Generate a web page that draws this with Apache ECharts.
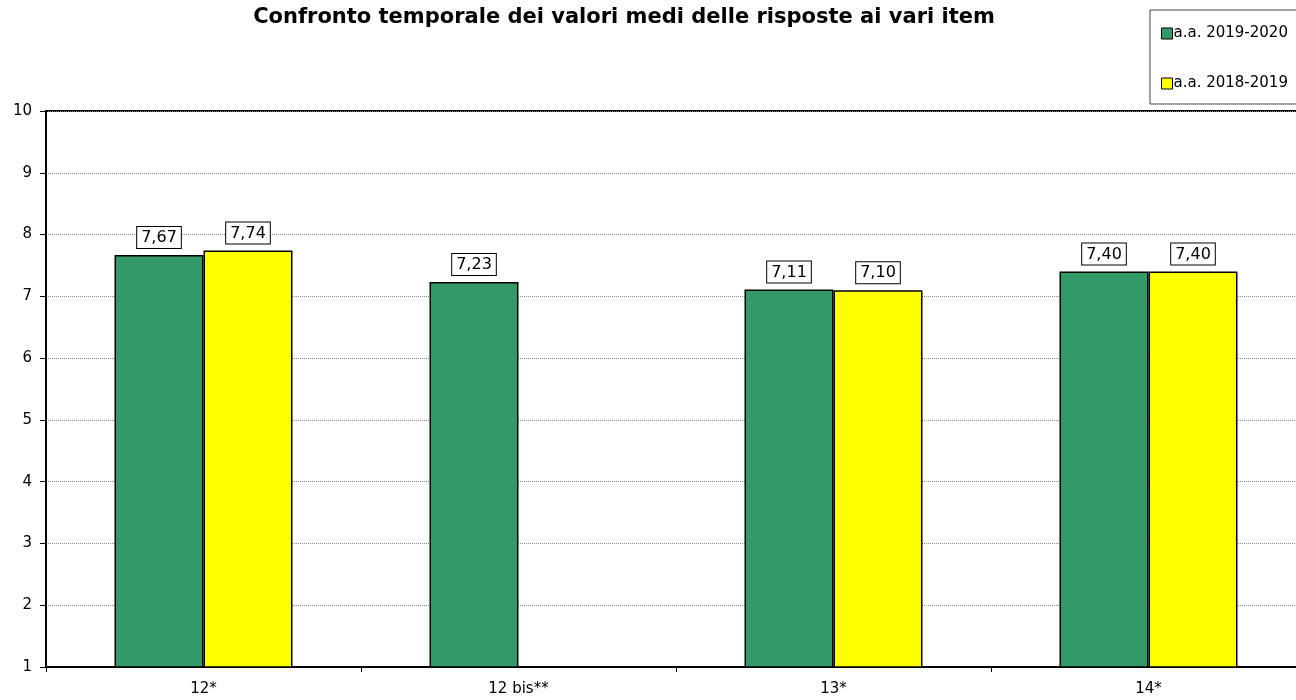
<!DOCTYPE html>
<html>
<head>
<meta charset="utf-8">
<style>
  html, body { margin: 0; padding: 0; background: #fff; }
  #chart { width: 1296px; height: 700px; }
</style>
<script src="https://cdn.jsdelivr.net/npm/echarts@6/dist/echarts.min.js"></script>
</head>
<body>
<div id="chart"></div>
<script>
// data
const categories = ['12*', '12 bis**', '13*', '14*']
const values2019 = [7.67, 7.23, 7.11, 7.40]
const values2018 = [7.74, null, 7.10, 7.40]
const seriesNames = ['a.a. 2019-2020', 'a.a. 2018-2019']

const font = '"Comic Sans MS", "DejaVu Sans", sans-serif'

const chart = echarts.init(document.getElementById('chart'))

const labelStyle = {
  show: true,
  position: 'top',
  distance: 7,
  formatter: (p) => p.value == null ? '' : p.value.toFixed(2).replace('.', ','),
  color: '#000',
  fontFamily: font,
  fontSize: 16,
  lineHeight: 18,
  backgroundColor: '#fff',
  borderColor: '#000',
  borderWidth: 1,
  padding: [2, 4, 1, 4]
}

chart.setOption({
  animation: false,
  title: {
    text: 'Confronto temporale dei valori medi delle risposte ai vari item',
    left: 619,
    top: 2,
    textAlign: 'center',
    textStyle: { fontFamily: font, fontWeight: 'bold', fontSize: 21, color: '#000' }
  },
  legend: {
    data: seriesNames,
    orient: 'vertical',
    left: 1150,
    top: 10,
    itemGap: 35,
    itemWidth: 11,
    itemHeight: 11,
    padding: [16, 60, 13, 11],
    borderColor: '#444',
    borderWidth: 1,
    backgroundColor: '#fff',
    icon: 'rect',
    itemStyle: { borderColor: '#000', borderWidth: 1 },
    textStyle: { fontFamily: font, fontSize: 15, color: '#000', padding: [0, 0, 0, -4] }
  },
  grid: {
    left: 46, top: 111, width: 1260, bottom: 33,
    outerBoundsMode: 'none',
    show: true, borderColor: '#000', borderWidth: 2
  },
  xAxis: {
    type: 'category',
    data: categories,
    axisLine: { lineStyle: { color: '#000', width: 2 } },
    axisTick: { show: true, length: 5, lineStyle: { color: '#000' } },
    axisLabel: { color: '#000', fontFamily: font, fontSize: 15, margin: 15 }
  },
  yAxis: {
    type: 'value',
    min: 1,
    max: 10,
    interval: 1,
    axisLine: { show: true, lineStyle: { color: '#000', width: 2 } },
    axisTick: { show: true, length: 6, lineStyle: { color: '#000' } },
    axisLabel: { color: '#000', fontFamily: font, fontSize: 15, margin: 14 },
    splitLine: { lineStyle: { color: '#888', type: 'dotted', width: 1 } }
  },
  series: [
    {
      name: seriesNames[0],
      type: 'bar',
      data: values2019,
      barWidth: 89,
      barGap: '0%',
      itemStyle: { color: '#339966', borderColor: '#000', borderWidth: 1.5 },
      label: labelStyle
    },
    {
      name: seriesNames[1],
      type: 'bar',
      data: values2018,
      barWidth: 89,
      barGap: '0%',
      itemStyle: { color: '#ffff00', borderColor: '#000', borderWidth: 1.5 },
      label: labelStyle
    }
  ]
})
</script>
</body>
</html>
